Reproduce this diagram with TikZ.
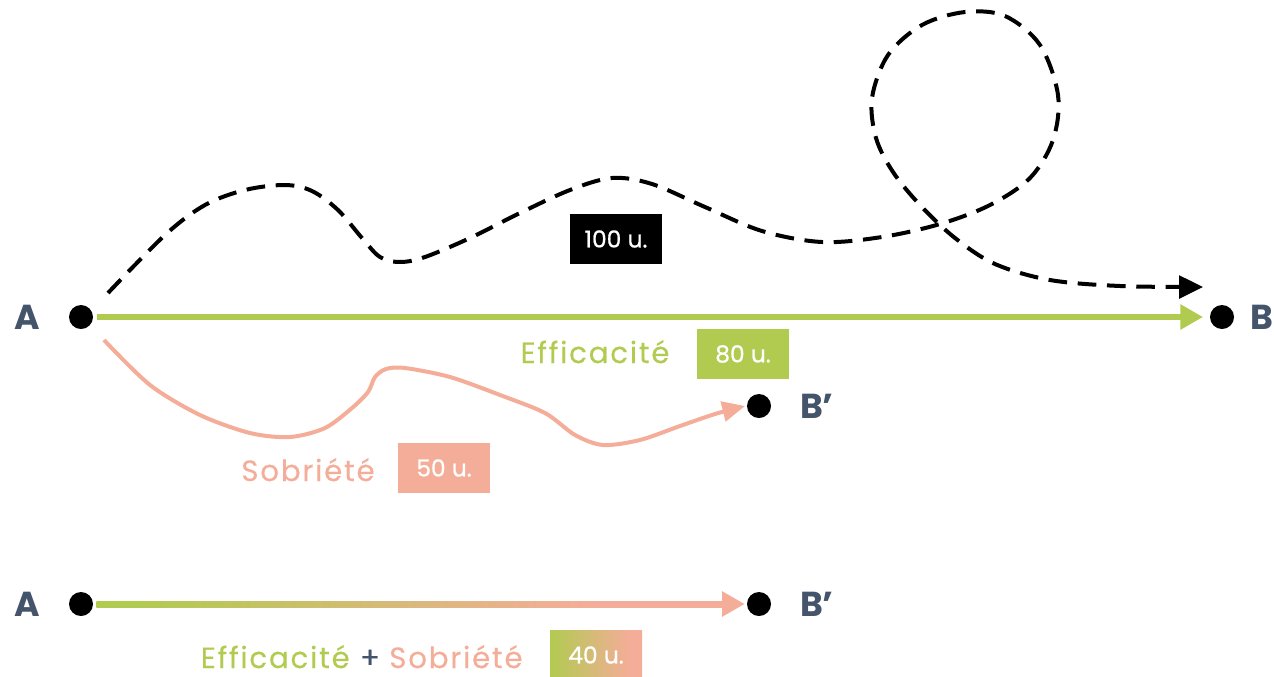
\documentclass[tikz,border=0pt]{standalone}
\usepackage{fontspec}
\setmainfont{Poppins}
\newfontfamily\wordfont[LetterSpace=6,FakeBold=0.3]{Poppins}
\newfontfamily\boxfont[FakeBold=0.8]{Poppins}
\usetikzlibrary{arrows.meta,calc}
\definecolor{effgreen}{HTML}{B0CB4F}
\definecolor{sobpink}{HTML}{F4AD98}
\definecolor{slate}{HTML}{44546A}
\pgfdeclarehorizontalshading{effsobline}{100bp}{color(0bp)=(effgreen); color(28bp)=(effgreen); color(64bp)=(sobpink); color(100bp)=(sobpink)}
\pgfdeclarehorizontalshading{effsobbox}{100bp}{color(0bp)=(effgreen); color(24bp)=(effgreen); color(68bp)=(sobpink); color(100bp)=(sobpink)}
\begin{document}
\begin{tikzpicture}[x=0.75pt,y=-0.75pt,
  dot/.style={circle,fill=black,minimum size=18pt,inner sep=0pt},
  ptlabel/.style={text=slate,inner sep=0pt,anchor=base,font=\bfseries\fontsize{26}{26}\selectfont},
  word/.style={inner sep=0pt,anchor=base,font=\wordfont\fontsize{22}{22}\selectfont},
  valbox/.style={minimum width=69pt,minimum height=37pt,inner sep=0pt,text=white,font=\boxfont\fontsize{17.5}{17.5}\selectfont},
  effarrow/.style={effgreen,line width=4.5pt,-{Triangle[length=17pt,width=18pt]}},
  sobarrow/.style={sobpink,line width=3pt,-{Triangle[length=17pt,width=15pt]}},
  wander/.style={black,line width=3pt,dash pattern=on 14pt off 8pt,-{Triangle[length=18pt,width=17pt]}},
]
\useasboundingbox (0,0) rectangle (1274,676);

% points
\node[dot] (A1) at (81,317) {};
\node[dot] (B1) at (1222,317) {};
\node[dot] (B2) at (759,406) {};
\node[dot] (A3) at (81,604) {};
\node[dot] (B3) at (759,604) {};
\node[ptlabel] (lA1) at (27,329) {A};
\node[ptlabel] (lB1) at (1262,329) {B};
\node[ptlabel] (lB2) at (817,418) {B’};
\node[ptlabel] (lA3) at (27,616) {A};
\node[ptlabel] (lB3) at (817,616) {B’};

% dashed wandering path
\coordinate (ds) at (108,293);
\coordinate (de) at (1203,287);
\draw[wander] plot[smooth,tension=0.55] coordinates {(ds) (165,235) (205,205) (245,190) (285,185) (312,191) (338,210) (362,238) (380,257) (400,262) (425,257) (470,238) (520,213) (570,190) (612,178) (652,184) (705,207) (762,231) (822,242) (882,237) (940,224) (990,205) (1030,178) (1053,140) (1058,95) (1040,45) (1005,16) (965,12) (922,25) (888,55) (872,98) (876,138) (893,172) (920,205) (955,238) (995,264) (1050,280) (1120,286) (de)};
\node[valbox,fill=black] (v100) at (616,239) {100 u.};

% efficiency
\draw[effarrow,shorten <=3pt,shorten >=5pt] (A1) -- (B1);
\node[word,text=effgreen] (eff) at (595,363) {Efficacité};
\node[valbox,fill=effgreen] (v80) at (743,354) {80 u.};

% sobriety
\coordinate (ss) at (104,340);
\coordinate (se) at (745,406);
\draw[sobarrow] plot[smooth,tension=0.5] coordinates {(ss) (150,385) (200,415) (250,433) (290,437) (325,428) (352,408) (368,392) (375,377) (386,369) (405,368) (450,377) (500,395) (545,413) (575,435) (603,445) (640,440) (680,426) (715,414) (se)};
\node[word,text=sobpink] (sob) at (308,481) {Sobriété};
\node[valbox,fill=sobpink] (v50) at (444,468) {50 u.};

% combined
\shade[shading=effsobline] ($(A3.east)+(3,-3)$) rectangle ($(B3.west)+(-24,3)$);
\draw[effarrow,sobpink] ($(B3.west)+(-26,0)$) -- ($(B3.west)+(-2,0)$);
\node[word,text=effgreen,anchor=base east] (e3) at (350,668) {Efficacité};
\node[word,text=slate] (plus) at (370,668) {+};
\node[word,text=sobpink,anchor=base west] (s3) at (389,668) {Sobriété};
\node[valbox,shade,shading=effsobbox] (v40) at (596,655) {40 u.};
\end{tikzpicture}
\end{document}
